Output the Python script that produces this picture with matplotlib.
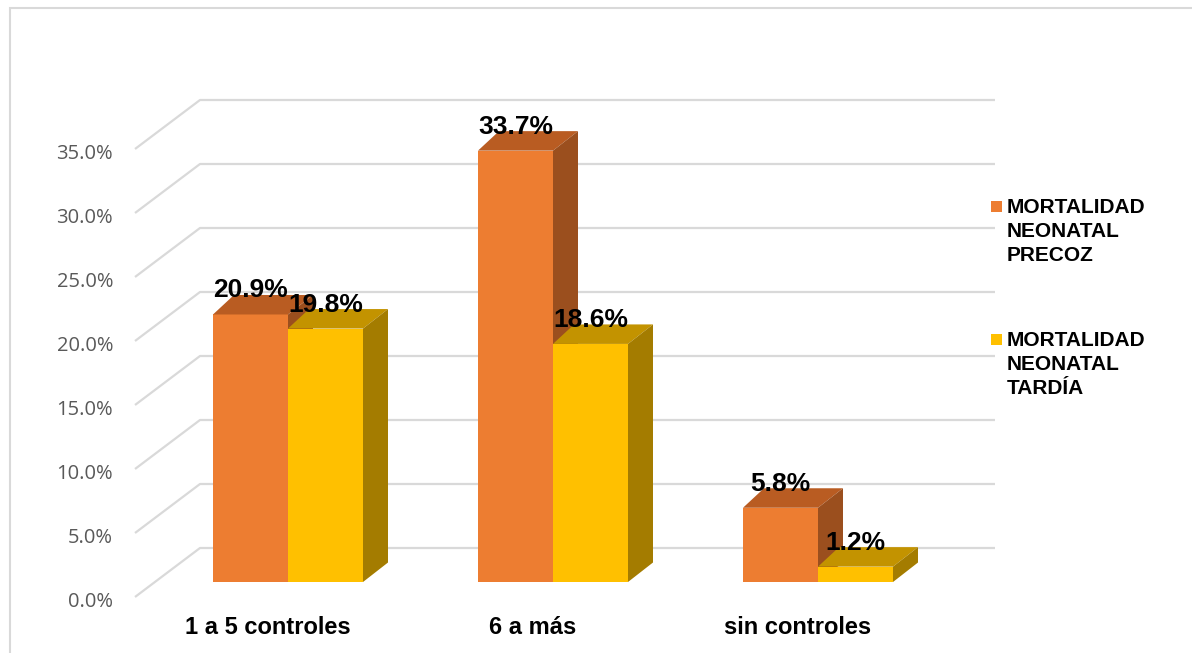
import matplotlib
matplotlib.use("Agg")
import matplotlib.pyplot as plt
from matplotlib.patches import Polygon, Rectangle

categories = ["1 a 5 controles", "6 a más", "sin controles"]
precoz = [20.9, 33.7, 5.8]
tardia = [19.8, 18.6, 1.2]
series_names = [["MORTALIDAD", "NEONATAL", "PRECOZ"],
                ["MORTALIDAD", "NEONATAL", "TARDÍA"]]
ticks = [0, 5, 10, 15, 20, 25, 30, 35]

W, H = 1192, 653
# pixel layout of the reference (used only to set scales)
PX_CAT, X0 = 265.0, 288.0      # px per category, x of first pair centre
PX_PCT, Y0 = 12.8, 582.0       # px per percent, y of bar base


def px_x(px):
    return (px - X0) / PX_CAT


def px_y(py):
    return (Y0 - py) / PX_PCT


fig = plt.figure(figsize=(W / 100, H / 100), dpi=100)
ax = fig.add_axes([0, 0, 1, 1])
ax.set_xlim(px_x(0), px_x(W))
ax.set_ylim(px_y(H), px_y(0))
ax.axis("off")

# chart border (left and top visible)
fig.patches.append(Rectangle((10 / W, -0.1), 1.2, 1 - 8 / H + 0.1, transform=fig.transFigure,
                             fill=False, edgecolor="#d9d9d9", linewidth=1.5))

grid_c = "#d9d9d9"
back = (582 - 548) / PX_PCT
front = (582 - 597) / PX_PCT
for t in ticks:
    ax.plot([px_x(135), px_x(200), px_x(995)], [t + front, t + back, t + back],
            color=grid_c, lw=1.6, solid_capstyle="butt", zorder=1)
    ax.text(px_x(113), t + front - 10 / PX_PCT, f"{t:.1f}%", ha="right", va="baseline",
            fontsize=14.5, color="#595959", family="Open Sans")

w = 75 / PX_CAT
dxl, dxr, dy = 21 / PX_CAT, 25 / PX_CAT, 19.5 / PX_PCT
colors = [("#ed7d31", "#b95c22", "#9b4f1e"), ("#ffc000", "#c39300", "#a47c00")]

for i in range(len(categories)):
    for j, vals in enumerate([precoz, tardia]):
        v = vals[i]
        x0 = i - w + j * w
        front_c, top_c, side_c = colors[j]
        ax.bar(x0, v, width=w, align="edge", color=front_c, zorder=3)
        ax.add_patch(Polygon([(x0, v), (x0 + w, v), (x0 + w + dxr, v + dy), (x0 + dxl, v + dy)],
                             closed=True, facecolor=top_c, edgecolor="none", zorder=3))
        ax.add_patch(Polygon([(x0 + w, 0), (x0 + w + dxr, dy), (x0 + w + dxr, v + dy), (x0 + w, v)],
                             closed=True, facecolor=side_c, edgecolor="none", zorder=3))
        ax.text(x0 + w / 2, v + 17 / PX_PCT, f"{v:.1f}%", ha="center", va="baseline",
                fontsize=19, fontweight="bold", color="black", family="Liberation Sans", zorder=5)
    ax.text(i - 20 / PX_CAT, px_y(634), categories[i], ha="center", va="baseline",
            fontsize=17, fontweight="bold", color="black", family="Liberation Sans")

# legend
leg_base = [213, 346]
for k, lines in enumerate(series_names):
    top = leg_base[k] - 12
    fig.patches.append(Rectangle((991 / W, 1 - (top + 11) / H), 11 / W, 11 / H,
                                 transform=fig.transFigure, facecolor=colors[k][0], edgecolor="none"))
    for n, line in enumerate(lines):
        fig.text(1007 / W, 1 - (leg_base[k] + n * 24) / H, line, ha="left", va="baseline",
                 fontsize=15, fontweight="bold", color="black", family="Liberation Sans")

fig.savefig("out.png", dpi=100)
